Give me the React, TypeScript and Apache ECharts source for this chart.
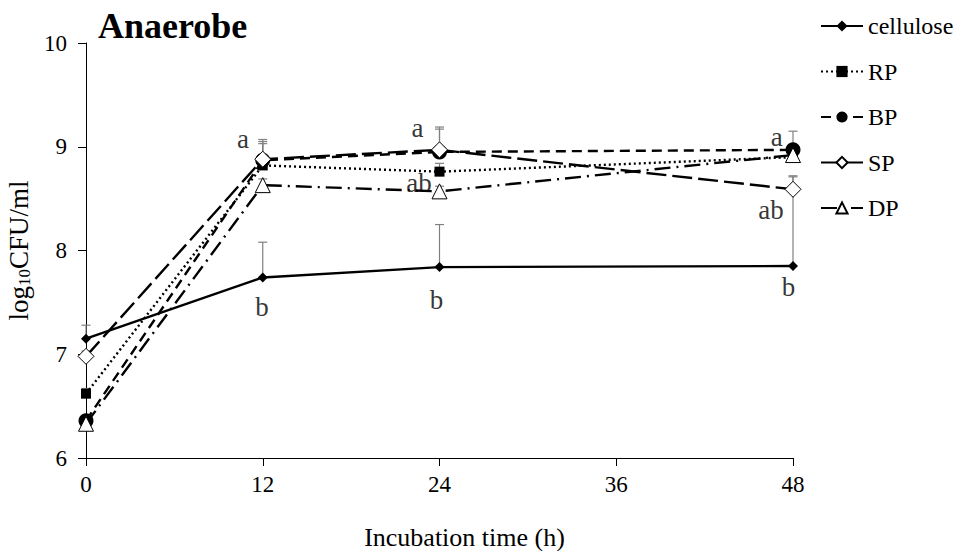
import React, { useEffect, useRef } from "react";
import * as echarts from "echarts";

const times = [0, 12, 24, 48];
const xTicks = [0, 12, 24, 36, 48];
const seriesNames = ["cellulose", "RP", "BP", "SP", "DP"];
const cellulose = [7.15, 7.74, 7.84, 7.85];
const rp = [6.62, 8.82, 8.76, 8.9];
const bp = [6.36, 8.87, 8.95, 8.97];
const sp = [6.98, 8.88, 8.97, 8.59];
const dp = [6.33, 8.63, 8.57, 8.92];
const celluloseErr = [0.13, 0.34, 0.41, 0.87];
const rpErr = [0.05, 0.21, 0.08, 0.05];
const bpErr = [0.05, 0.2, 0.22, 0.18];
const spErr = [0.05, 0.17, 0.22, 0.12];
const dpErr = [0.05, 0.06, 0.05, 0.05];
const annotations: [number, number, string][] = [
  [10.66, 9.07, "a"],
  [11.95, 7.46, "b"],
  [22.5, 9.18, "a"],
  [22.6, 8.65, "ab"],
  [23.8, 7.52, "b"],
  [46.9, 9.09, "a"],
  [46.5, 8.39, "ab"],
  [47.7, 7.65, "b"],
];

const FONT = "'Liberation Serif', 'Times New Roman', serif";

export default function App() {
  const ref = useRef<HTMLDivElement>(null);
  useEffect(() => {
    if (!ref.current) return;
    const chart = echarts.init(ref.current, null, { renderer: "svg" });
    const values = [cellulose, rp, bp, sp, dp];
    const errs = [celluloseErr, rpErr, bpErr, spErr, dpErr];
    const styles = [
      { symbol: "diamond", size: 10, fill: "#000", dash: "solid" as any },
      { symbol: "rect", size: 10, fill: "#000", dash: [2, 3] },
      { symbol: "circle", size: 15, fill: "#000", dash: [10, 6] },
      { symbol: "diamond", size: 16, fill: "#fff", dash: [20, 6] },
      { symbol: "triangle", size: 15, fill: "#fff", dash: [16, 6, 2, 6] },
    ];
    const errData: number[][] = [];
    values.forEach((vals, si) => {
      vals.forEach((v, i) => {
        errData.push([times[i], v, v + errs[si][i]]);
      });
    });
    const lineSeries = seriesNames.map((name, si) => ({
      name,
      type: "line",
      data: times.map((t, i) => [t, values[si][i]]),
      symbol: styles[si].symbol,
      symbolSize: styles[si].size,
      showAllSymbol: true,
      z: 3 + si,
      lineStyle: { color: "#000", width: 2.4, type: styles[si].dash },
      itemStyle: {
        color: styles[si].fill,
        borderColor: "#000",
        borderWidth: styles[si].fill === "#fff" ? 1 : 0,
      },
      emphasis: { disabled: true },
    }));
    chart.setOption({
      animation: false,
      title: {
        text: "Anaerobe",
        left: 93,
        top: 3,
        textStyle: { fontFamily: FONT, fontSize: 36, fontWeight: "bold", color: "#000" },
      },
      legend: {
        orient: "vertical",
        left: 820,
        top: 14,
        padding: 0,
        itemWidth: 42,
        itemHeight: 14,
        itemGap: 21.5,
        data: seriesNames,
        textStyle: { fontFamily: FONT, fontSize: 24, color: "#000" },
      },
      grid: { left: 86, right: 165, top: 43, bottom: 93, outerBoundsMode: "none" },
      xAxis: {
        type: "value",
        min: 0,
        max: 48,
        interval: 12,
        name: "Incubation time (h)",
        nameLocation: "middle",
        nameGap: 66,
        nameTextStyle: { fontFamily: FONT, fontSize: 26, color: "#000", padding: [0, 0, 0, 50] },
        axisLine: { lineStyle: { color: "#000", width: 1 } },
        axisTick: { show: true, length: 8, lineStyle: { color: "#000" } },
        axisLabel: {
          fontFamily: FONT,
          fontSize: 23,
          color: "#000",
          margin: 15,
          formatter: (v: number) => (xTicks.includes(v) ? String(v) : ""),
        },
        splitLine: { show: false },
      },
      yAxis: {
        type: "value",
        min: 6,
        max: 10,
        interval: 1,
        name: "log{sub|10}CFU/ml",
        nameLocation: "middle",
        nameRotate: 90,
        nameGap: 52,
        nameTextStyle: {
          fontFamily: FONT,
          fontSize: 27,
          color: "#000",
          rich: {
            sub: { fontFamily: FONT, fontSize: 17, color: "#000", padding: [11, 0, 0, 0] },
          },
        },
        axisLine: { show: true, lineStyle: { color: "#000", width: 1 } },
        axisTick: { show: true, length: 8, lineStyle: { color: "#000" } },
        axisLabel: { fontFamily: FONT, fontSize: 23, color: "#000", margin: 19 },
        splitLine: { show: false },
      },
      series: [
        {
          type: "custom",
          name: "err",
          z: 1,
          silent: true,
          data: errData,
          renderItem: (params: any, api: any) => {
            const x = api.value(0);
            const lo = api.coord([x, api.value(1)]);
            const hi = api.coord([x, api.value(2)]);
            const style = { stroke: "#808080", lineWidth: 1.2 };
            return {
              type: "group",
              children: [
                { type: "line", shape: { x1: lo[0], y1: lo[1], x2: hi[0], y2: hi[1] }, style },
                { type: "line", shape: { x1: hi[0] - 4.5, y1: hi[1], x2: hi[0] + 4.5, y2: hi[1] }, style },
              ],
            };
          },
        },
        ...lineSeries,
        {
          type: "scatter",
          name: "labels",
          symbolSize: 0,
          silent: true,
          z: 10,
          data: annotations.map((a) => ({ value: [a[0], a[1]], name: a[2] })),
          label: {
            show: true,
            position: "inside",
            formatter: (p: any) => p.name,
            fontFamily: FONT,
            fontSize: 27,
            color: "#000",
          },
        },
      ],
    });
    return () => chart.dispose();
  }, []);
  return <div ref={ref} style={{ width: 958, height: 551, position: "absolute", left: 0, top: 0 }} />;
}
